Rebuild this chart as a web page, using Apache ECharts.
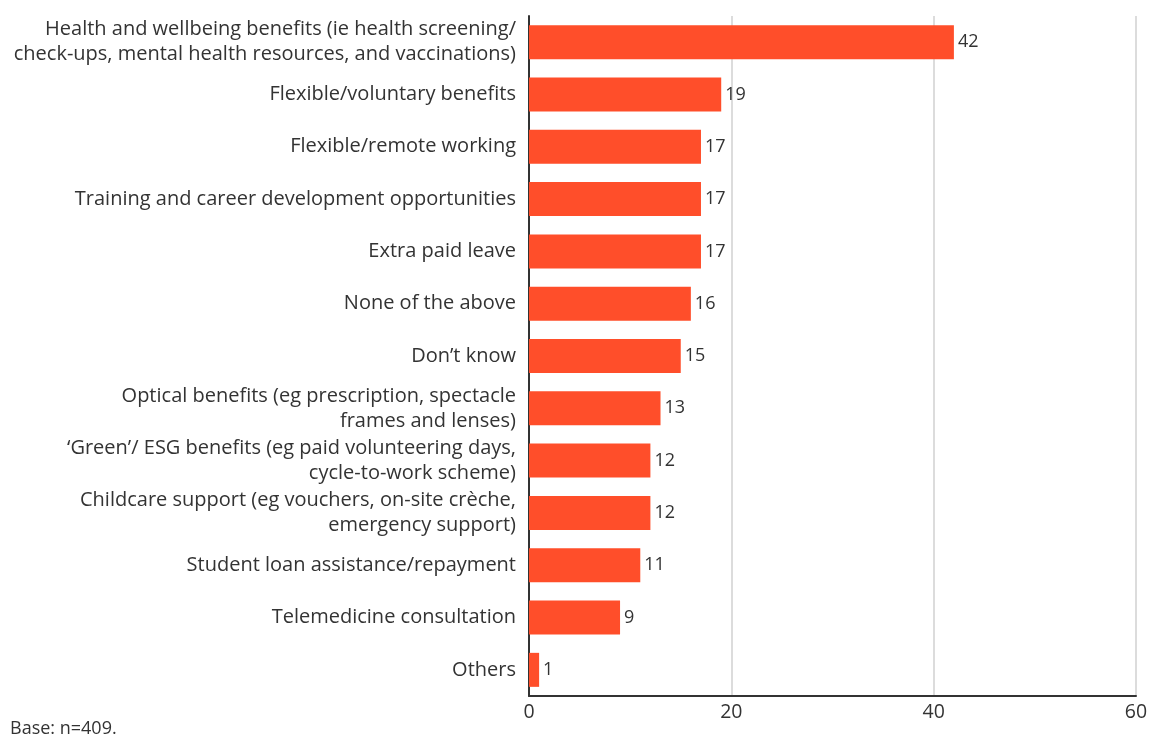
<!DOCTYPE html>
<html>
<head>
<meta charset="utf-8">
<style>
  html, body { margin: 0; padding: 0; background: #ffffff; }
  #chart { width: 1156px; height: 734px; }
</style>
<script src="https://cdn.jsdelivr.net/npm/echarts@6/dist/echarts.min.js"></script>
</head>
<body>
<div id="chart"></div>
<script>
// Benefits offered, share of respondents (%)
const categories = [
  'Health and wellbeing benefits (ie health screening/\ncheck-ups, mental health resources, and vaccinations)',
  'Flexible/voluntary benefits',
  'Flexible/remote working',
  'Training and career development opportunities',
  'Extra paid leave',
  'None of the above',
  'Don\u2019t know',
  'Optical benefits (eg prescription, spectacle\nframes and lenses)',
  '\u2018Green\u2019/ ESG benefits (eg paid volunteering days,\ncycle-to-work scheme)',
  'Childcare support (eg vouchers, on-site cr\u00e8che,\nemergency support)',
  'Student loan assistance/repayment',
  'Telemedicine consultation',
  'Others'
];
const values = [42, 19, 17, 17, 17, 16, 15, 13, 12, 12, 11, 9, 1];
const xTicks = { min: 0, max: 60, interval: 20 };
const baseNote = 'Base: n=409.';

const FONT = '"Open Sans", "Noto Sans", sans-serif';
const chart = echarts.init(document.getElementById('chart'));
chart.setOption({
  backgroundColor: '#ffffff',
  animation: false,
  grid: { left: 529, right: 20, top: 16, bottom: 38, containLabel: false },
  graphic: [{
    type: 'text',
    left: 10,
    top: 720,
    style: { text: baseNote, font: '18px ' + FONT, fill: '#333333' }
  }],
  xAxis: {
    type: 'value',
    min: xTicks.min,
    max: xTicks.max,
    interval: xTicks.interval,
    axisLine: { show: true, lineStyle: { color: '#333333', width: 2 } },
    axisTick: { show: false },
    axisLabel: { color: '#333333', fontSize: 19.5, fontFamily: FONT, margin: 6 },
    splitLine: { show: true, lineStyle: { color: '#d0d0d0', width: 1.5 } }
  },
  yAxis: {
    type: 'category',
    data: categories,
    inverse: true,
    axisLine: { show: true, lineStyle: { color: '#333333', width: 2 } },
    axisTick: { show: false },
    axisLabel: {
      color: '#333333', fontSize: 20, fontFamily: FONT,
      margin: 13, lineHeight: 25, align: 'right'
    }
  },
  series: [{
    type: 'bar',
    data: values,
    barCategoryGap: '35%',
    itemStyle: { color: '#ff4e2a' },
    label: {
      show: true, position: 'right', distance: 4,
      color: '#333333', fontSize: 18, fontFamily: FONT
    }
  }]
});
</script>
</body>
</html>
